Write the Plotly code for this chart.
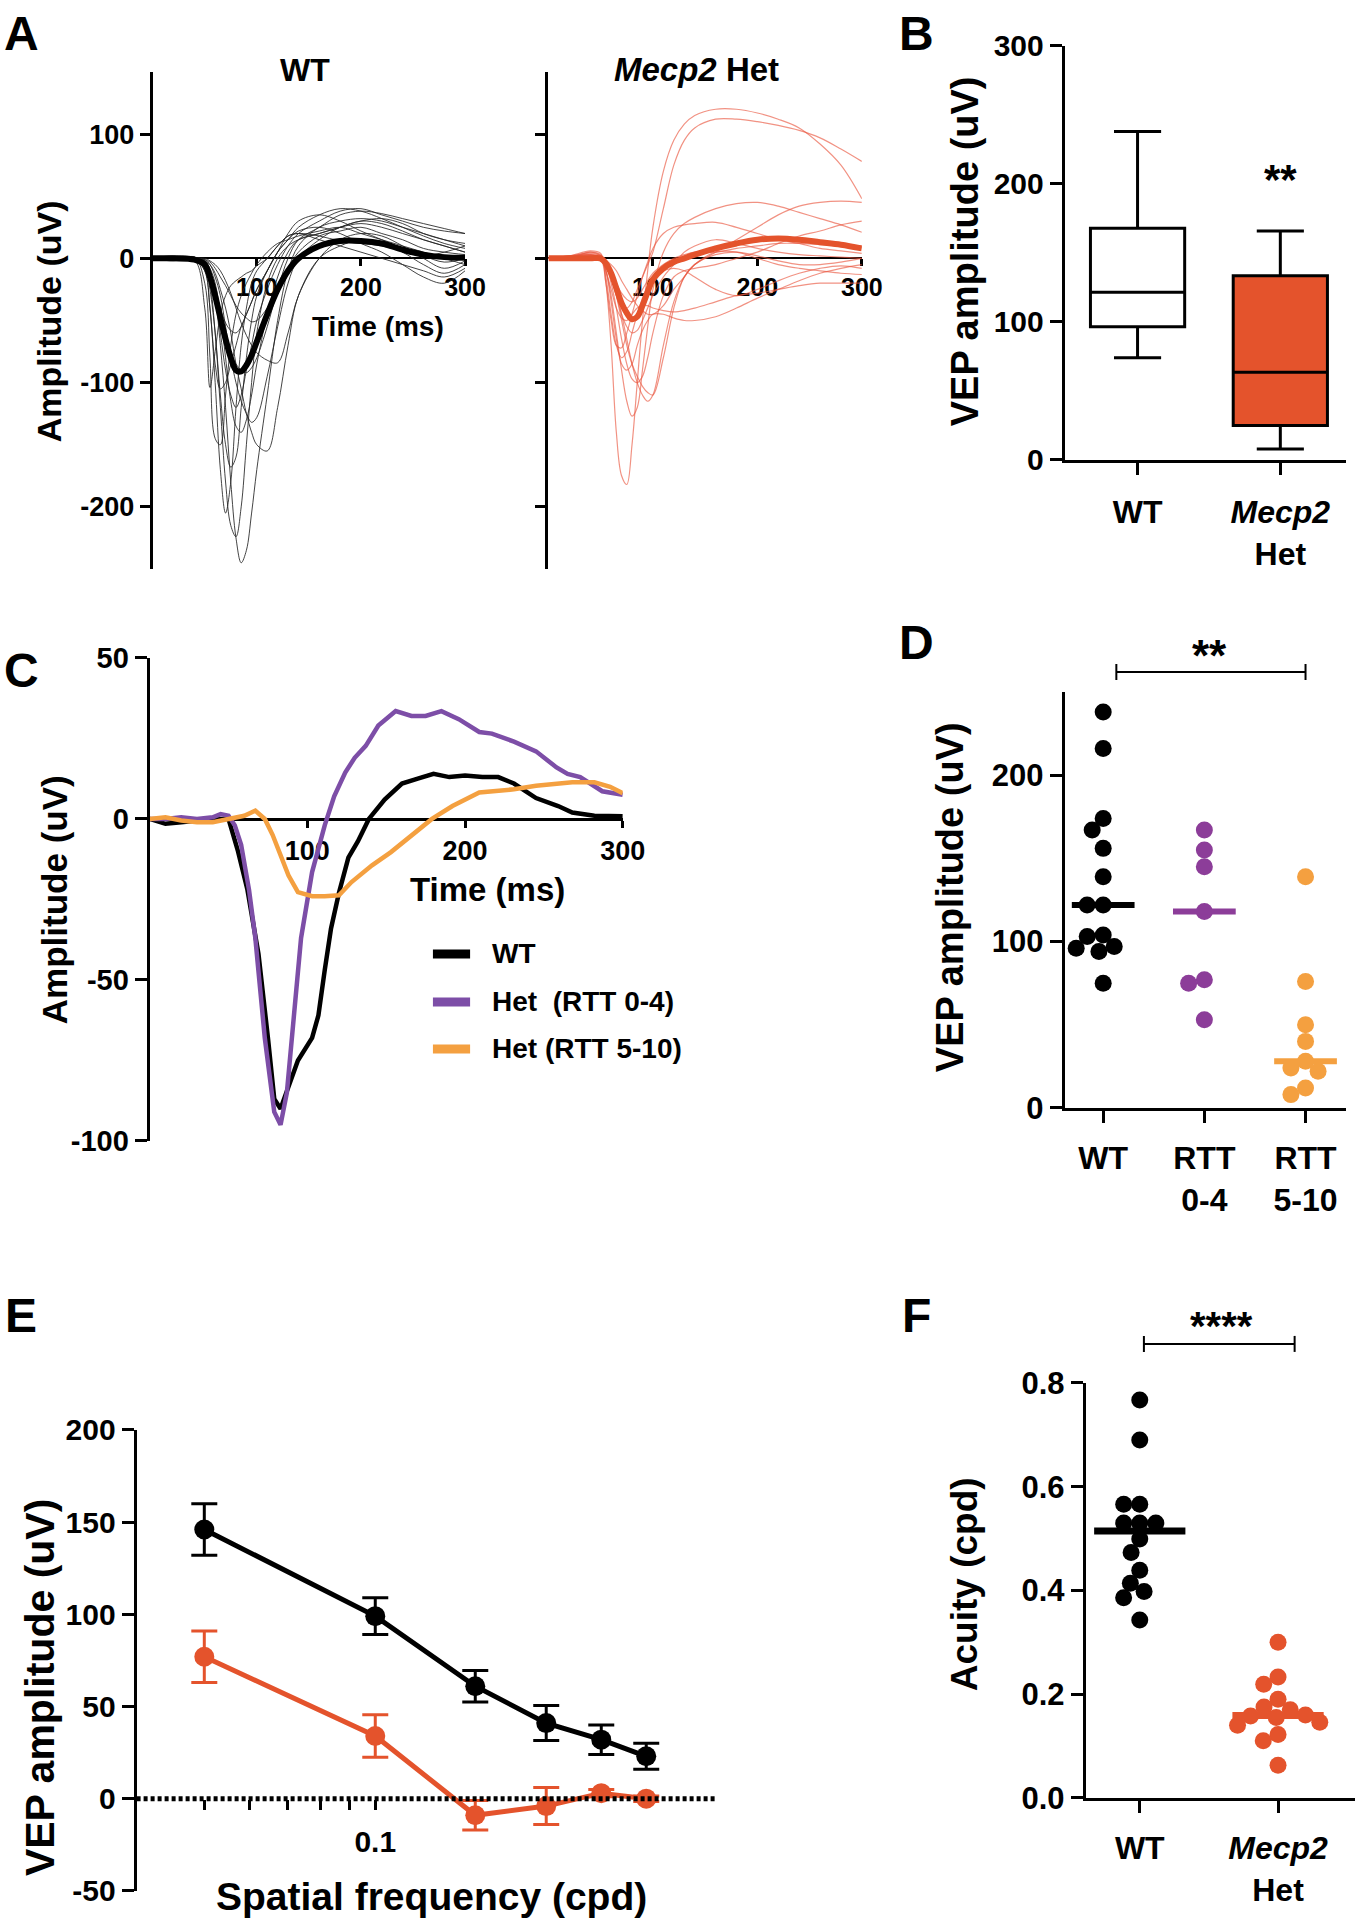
import math
import numpy as np
import plotly.graph_objects as go

# Figure canvas and calibration from page pixels to figure pixels
WF, HF = 1384, 1938
SX, SY, OY = 0.979, 0.982, 17.0
FONT = "Liberation Sans, Arial, Helvetica, sans-serif"
RED = "#E4532C"
PURPLE_C = "#7D4EA7"
PURPLE_D = "#8C3D99"
ORANGE = "#F4A040"

# ---------------- Panel A data (individual VEP traces) ----------------
T = [0, 20, 40, 50, 55, 60, 65, 70, 75, 80, 85, 90, 95, 100, 110, 120, 130, 140,
     160, 180, 200, 220, 240, 260, 280, 300]
wt_traces = [
    [0, 2, -1, -40, -104, -75, -45, -30, -22, -18, -15, -12, -10, -6, 0, 10, 18, 20, 18, 14, 12, 10, 6, 2, 5, 10],
    [0, -2, 1, -20, -80, -145, -150, -110, -70, -45, -30, -20, -12, -5, 5, 12, 15, 18, 22, 25, 20, 15, 10, 5, 0, -5],
    [0, 1, 0, -5, -25, -60, -110, -150, -168, -160, -120, -80, -50, -30, -10, 5, 15, 22, 25, 20, 12, 5, -5, -15, -20, -10],
    [0, -1, 1, -5, -20, -60, -120, -180, -215, -224, -200, -150, -100, -60, -20, 0, 10, 15, 20, 25, 30, 28, 22, 15, 10, 5],
    [0, 1, -1, -3, -10, -30, -70, -120, -180, -225, -245, -235, -205, -170, -110, -50, -10, 10, 25, 30, 32, 30, 25, 20, 15, 10],
    [0, 0, 1, -2, -10, -30, -60, -90, -110, -120, -110, -90, -70, -50, -25, -5, 10, 20, 30, 38, 40, 35, 30, 25, 22, 20],
    [0, 1, 0, -2, -5, -15, -30, -55, -80, -100, -115, -125, -132, -128, -95, -55, -20, 0, 15, 25, 30, 32, 28, 20, 15, 12],
    [0, -1, 0, -1, -5, -12, -25, -40, -60, -85, -105, -125, -140, -150, -155, -120, -70, -30, 0, 10, 15, 12, 5, -5, -12, -5],
    [0, 0, 1, -5, -15, -30, -50, -65, -78, -85, -90, -92, -88, -80, -55, -25, 0, 15, 25, 35, 38, 36, 32, 28, 24, 20],
    [0, 1, -1, -10, -40, -85, -105, -100, -85, -70, -55, -45, -35, -25, -10, 5, 15, 25, 35, 40, 38, 32, 25, 18, 12, 8],
    [0, 0, 0, 0, -2, -5, -10, -18, -28, -40, -52, -62, -70, -76, -82, -84, -60, -30, 0, 15, 20, 18, 10, 0, -8, -2],
    [0, 1, 0, -3, -12, -25, -40, -52, -58, -60, -55, -45, -35, -25, -10, 5, 20, 30, 35, 30, 22, 15, 8, 2, -3, 0],
    [0, -1, 0, -1, -3, -8, -15, -22, -30, -38, -44, -48, -51, -50, -40, -25, -8, 5, 18, 22, 25, 20, 15, 8, 5, 3],
    [0, 1, 0, -10, -40, -100, -170, -205, -180, -120, -70, -40, -20, -10, 0, 10, 18, 20, 15, 10, 5, 0, -5, -10, -15, -8],
    [0, 0, -1, -2, -8, -20, -45, -80, -115, -135, -140, -130, -110, -85, -45, -15, 5, 15, 20, 25, 28, 25, 20, 15, 10, 5],
]
wt_mean = [0, 0, -1, -5, -15, -30, -48, -65, -80, -90, -91, -86, -78, -67, -45, -25, -10, 0, 10, 14, 14, 12, 7, 3, 1, 0.5]

het_traces = [
    [0, 2, 3, 0, -5, -15, -28, -38, -40, -35, -25, -15, -5, 5, 40, 75, 95, 105, 112, 112, 110, 107, 103, 97, 88, 78],
    [0, 1, 5, 2, -20, -70, -140, -175, -182, -150, -100, -50, -10, 25, 70, 95, 108, 115, 120, 120, 117, 112, 105, 92, 75, 48],
    [0, 1, 0, -2, -5, -15, -30, -50, -70, -85, -95, -103, -108, -110, -80, -40, -15, -5, 5, 15, 25, 35, 42, 45, 46, 45],
    [0, 0, 2, 0, -10, -30, -60, -90, -115, -127, -120, -90, -55, -25, 5, 20, 28, 33, 40, 44, 45, 42, 37, 32, 27, 21],
    [0, 1, 3, 0, -20, -50, -70, -72, -60, -45, -30, -15, -3, 8, 20, 25, 27, 28, 29, 25, 20, 15, 12, 8, 6, 4],
    [0, 0, 2, 0, -10, -35, -65, -85, -90, -85, -70, -58, -50, -45, -45, -48, -50, -50, -47, -40, -32, -25, -18, -12, -8, -5],
    [0, 1, 3, 2, -2, -10, -25, -45, -65, -85, -100, -110, -115, -110, -70, -35, -15, -5, 5, 5, 0, -5, -8, -10, -12, -13],
    [0, 0, 5, 3, -5, -15, -30, -45, -55, -60, -58, -50, -40, -30, -15, -5, 5, 10, 15, 12, 8, 5, 3, 2, 1, 0],
    [0, 2, 4, 2, -10, -25, -40, -48, -50, -45, -40, -38, -38, -40, -42, -43, -42, -40, -35, -30, -28, -25, -22, -20, -20, -20],
    [0, 0, 1, 0, -5, -20, -40, -65, -85, -97, -100, -95, -80, -60, -30, -15, -10, -8, -5, 0, 5, 12, 18, 22, 27, 30],
    [0, 1, 2, 1, -3, -10, -20, -28, -33, -35, -32, -25, -18, -12, -5, 0, 3, 5, 5, 8, 10, 12, 12, 11, 10, 10],
    [0, 2, 6, 4, -15, -45, -70, -80, -75, -60, -45, -32, -22, -15, -10, -8, -10, -15, -25, -30, -25, -18, -12, -8, -6, -8],
    [0, 0, 1, 0, -2, -5, -10, -18, -25, -32, -38, -42, -45, -45, -38, -25, -15, -5, 3, 5, 2, -2, -5, -5, -3, 0],
]
het_mean = [0, 0, 0, 0, -4, -12, -24, -36, -44, -49, -47, -38, -27, -17, -8, -3, 0, 3, 8, 12, 15, 16, 15, 13, 11, 8]
a_ticks = [-200, -100, 0, 100]
a_ticktext = ["-200", "-100", "0", "100"]

# ---------------- Panel B data (box summary) ----------------
b_groups = ["WT", "<i>Mecp2</i><br>Het"]
b_q1 = [96.5, 25]
b_median = [121.5, 63.5]
b_q3 = [168, 133.5]
b_low = [74, 8]
b_high = [238, 166]

# ---------------- Panel C data (mean traces) ----------------
c_names = ["WT", "Het  (RTT 0-4)", "Het (RTT 5-10)"]
c_t_wt = [0, 10, 20, 30, 40, 50, 56, 62, 69, 75, 79, 83, 90, 94, 103, 107, 111, 115,
          120, 126, 132, 139, 149, 160, 170, 180, 190, 200, 211, 221, 231, 245, 259, 268, 282, 300]
c_wt = [0, -1.5, -1, -0.5, 0, 0, -10, -22, -42, -68, -87, -90, -80, -75, -68, -61, -47, -34,
        -23, -12, -7, 0, 6, 11, 12.5, 14, 13, 13.5, 13, 13, 11, 6.5, 4, 2, 1, 0.8]
c_t_p = [0, 10, 20, 30, 40, 45, 50, 54, 58, 63, 67, 73, 79, 83, 87, 90, 96, 103, 111,
         117, 124, 130, 137, 145, 150, 156, 166, 175, 185, 196, 209, 217, 231, 245, 258, 265, 273, 287, 300]
c_p = [0, 0, 0.5, 0, 0.5, 1.5, 1, -2, -8, -22, -37, -68, -91, -95, -85, -68, -37, -16.5, -2,
       7, 14.4, 19, 22.7, 29, 31, 33.5, 32, 32, 33.5, 31, 27, 26.5, 24, 21, 16, 14, 13, 8.6, 7.5]
c_t_o = [0, 10, 20, 30, 40, 50, 60, 67, 73, 78, 82, 88, 94, 103, 111, 120, 128, 141, 153,
         166, 179, 192, 209, 231, 245, 268, 282, 292, 300]
c_o = [0, 0.5, -0.5, -1, -1, 0, 1, 2.6, 0, -5, -10, -17.5, -22.7, -24, -24, -23.7, -19.6, -14.4, -10.3,
       -5, 0, 4, 8.2, 9.2, 10.3, 11.4, 11.4, 10, 8]
c_ticks = [-100, -50, 0, 50]
c_ticktext = ["-100", "-50", "0", "50"]

# ---------------- Panel D data ----------------
d_groups = ["WT", "RTT<br>0-4", "RTT<br>5-10"]
d_wt = [238, 216, 174, 167, 156, 139, 122, 122, 104, 103, 97, 96, 94, 75]
d_rtt04 = [167, 155, 145, 118, 77, 75, 53]
d_rtt510 = [139, 76, 50, 40, 28, 24, 22, 12, 8]

# ---------------- Panel E data ----------------
e_freq = [0.05, 0.1, 0.15, 0.2, 0.25, 0.3]
e_wt = [146, 99, 61, 41, 32, 23]
e_wt_sem = [14, 10, 8.5, 9.5, 8, 7]
e_het = [77, 34, -9, -4, 3, 0]
e_het_sem = [14, 11.5, 8, 10, 2, 1.5]
e_ticks = [-50, 0, 50, 100, 150, 200]
e_ticktext = ["-50", "0", "50", "100", "150", "200"]
e_minor = [0.05, 0.06, 0.07, 0.08, 0.09, 0.1]
e_minor_text = ["", "", "", "", "", "0.1"]

# ---------------- Panel F data ----------------
f_groups = ["WT", "<i>Mecp2</i><br>Het"]
f_wt = [0.767, 0.690, 0.566, 0.566, 0.530, 0.530, 0.530, 0.499, 0.473, 0.439, 0.414, 0.398, 0.386, 0.343]
f_het = [0.30, 0.233, 0.219, 0.19, 0.175, 0.17, 0.16, 0.158, 0.155, 0.146, 0.14, 0.122, 0.11, 0.063]


# ---------------- layout helpers (targets given in page px) ----------------
def FX(px):
    return px / SX


def FY(py):
    return (py - OY) / SY


def xp(px):
    return FX(px) / WF


def ypaper(py):
    return 1 - FY(py) / HF


def xd(a, b):
    return [xp(a), min(1.0, xp(b))]


def yd(top, bottom):
    return [max(0.0, ypaper(bottom)), min(1.0, ypaper(top))]


def zero_pos(rng, top, bottom):
    frac = (0 - rng[0]) / (rng[1] - rng[0])
    py = bottom - frac * (bottom - top)
    return ypaper(py)


def beeswarm(vals, px_per_y, px_per_x, diam):
    order = sorted(range(len(vals)), key=lambda i: -vals[i])
    placed = []
    offs = [0.0] * len(vals)
    for i in order:
        y = vals[i] * px_per_y
        cands = [0.0]
        for (px, py) in placed:
            dy = abs(py - y)
            if dy < diam:
                dx = math.sqrt(diam ** 2 - dy ** 2)
                cands += [px - dx, px + dx]
        cands.sort(key=lambda c: (abs(c), c))
        chosen = cands[-1]
        for c in cands:
            if all((c - px) ** 2 + (y - py) ** 2 >= diam ** 2 - 1e-6 for px, py in placed):
                chosen = c
                break
        placed.append((chosen, y))
        offs[i] = chosen / px_per_x
    return offs


# Panel geometry (page px)
A1 = dict(x=(152, 463), y=(72, 569), r=[-250, 150])
A2 = dict(x=(546, 858), y=(72, 569), r=[-250, 150])
B = dict(x=(1060, 1340), y=(46, 460), r=[0, 300], xr=[-0.51, 1.46])
C = dict(x=(149, 620), y=(658, 1141), r=[-100, 50])
D = dict(x=(1060, 1340), y=(692, 1108), r=[0, 250], xr=[-0.38, 2.4])
E = dict(x=(136, 714), y=(1430, 1891), r=[-50, 200], xr=[math.log10(0.038), math.log10(0.4)])
F = dict(x=(1081, 1355), y=(1383, 1798), r=[0, 0.8], xr=[-0.39, 1.6])

fig = go.Figure()

# ---- Panel A traces ----
for tr in wt_traces:
    fig.add_trace(go.Scatter(x=T, y=tr, mode="lines", line=dict(color="rgba(35,35,35,0.85)", width=1, shape="spline"),
                             xaxis="x", yaxis="y", showlegend=False, hoverinfo="skip"))
fig.add_trace(go.Scatter(x=T, y=wt_mean, mode="lines", line=dict(color="black", width=6, shape="spline"),
                         xaxis="x", yaxis="y", showlegend=False))
for tr in het_traces:
    fig.add_trace(go.Scatter(x=T, y=tr, mode="lines", line=dict(color="rgba(234,88,64,0.65)", width=1.2, shape="spline"),
                             xaxis="x2", yaxis="y2", showlegend=False, hoverinfo="skip"))
fig.add_trace(go.Scatter(x=T, y=het_mean, mode="lines", line=dict(color=RED, width=6, shape="spline"),
                         xaxis="x2", yaxis="y2", showlegend=False))

# ---- Panel B boxes ----
b_fill = ["white", RED]
for i in range(2):
    fig.add_trace(go.Box(x=[i], q1=[b_q1[i]], median=[b_median[i]], q3=[b_q3[i]],
                         lowerfence=[b_low[i]], upperfence=[b_high[i]], width=0.66, whiskerwidth=0.5,
                         fillcolor=b_fill[i], line=dict(color="black", width=3), boxpoints=False,
                         xaxis="x3", yaxis="y3", showlegend=False))

# ---- Panel C mean traces ----
c_series = [(c_t_wt, c_wt, "black"), (c_t_p, c_p, PURPLE_C), (c_t_o, c_o, ORANGE)]
for (tt, vv, col), nm in zip(c_series, c_names):
    fig.add_trace(go.Scatter(x=tt, y=vv, mode="lines", name=nm, line=dict(color=col, width=4.5),
                             xaxis="x4", yaxis="y4", showlegend=False))

# ---- Panel D scatter ----
d_ppy = (D["y"][1] - D["y"][0]) / (D["r"][1] - D["r"][0])
d_ppx = (D["x"][1] - D["x"][0]) / (D["xr"][1] - D["xr"][0])
for gi, (vals, col) in enumerate([(d_wt, "black"), (d_rtt04, PURPLE_D), (d_rtt510, ORANGE)]):
    offs = beeswarm(vals, d_ppy, d_ppx, 16)
    fig.add_trace(go.Scatter(x=[gi + o for o in offs], y=vals, mode="markers",
                             marker=dict(color=col, size=17, line=dict(width=0)),
                             xaxis="x5", yaxis="y5", showlegend=False))
    med = float(np.median(vals))
    fig.add_trace(go.Scatter(x=[gi - 0.31, gi + 0.31], y=[med, med], mode="lines",
                             line=dict(color=col, width=6), xaxis="x5", yaxis="y5", showlegend=False))

# ---- Panel E tuning curves ----
fig.add_trace(go.Scatter(x=e_freq, y=e_wt, mode="lines+markers", line=dict(color="black", width=5),
                         marker=dict(color="black", size=20),
                         error_y=dict(type="data", array=e_wt_sem, color="black", thickness=3, width=13),
                         xaxis="x6", yaxis="y6", showlegend=False))
fig.add_trace(go.Scatter(x=e_freq, y=e_het, mode="lines+markers", line=dict(color=RED, width=5),
                         marker=dict(color=RED, size=20),
                         error_y=dict(type="data", array=e_het_sem, color=RED, thickness=3, width=13),
                         xaxis="x6", yaxis="y6", showlegend=False))

# ---- Panel F scatter ----
f_ppy = (F["y"][1] - F["y"][0]) / (F["r"][1] - F["r"][0])
f_ppx = (F["x"][1] - F["x"][0]) / (F["xr"][1] - F["xr"][0])
for gi, (vals, col) in enumerate([(f_wt, "black"), (f_het, RED)]):
    offs = beeswarm(vals, f_ppy, f_ppx, 16)
    fig.add_trace(go.Scatter(x=[gi + o for o in offs], y=vals, mode="markers",
                             marker=dict(color=col, size=17, line=dict(width=0)),
                             xaxis="x7", yaxis="y7", showlegend=False))
    med = float(np.median(vals))
    fig.add_trace(go.Scatter(x=[gi - 0.33, gi + 0.33], y=[med, med], mode="lines",
                             line=dict(color=col, width=7), xaxis="x7", yaxis="y7", showlegend=False))


# ---------------- axes ----------------
def ax_common(size):
    return dict(showline=True, linecolor="black", linewidth=3, ticks="outside", tickwidth=3,
                ticklen=12, tickcolor="black", showgrid=False, zeroline=False,
                tickfont=dict(family=FONT, size=size, color="black", weight="bold"))


lay = {}
lay["xaxis"] = dict(ax_common(25), domain=xd(*A1["x"]), range=[0, 300], anchor="free",
                    position=zero_pos(A1["r"], *A1["y"]), tickvals=[100, 200, 300], ticklen=7,
                    linewidth=2, layer="below traces")
lay["yaxis"] = dict(ax_common(27), domain=yd(*A1["y"]), range=A1["r"], anchor="x",
                    tickvals=a_ticks, ticktext=a_ticktext, ticklen=10)
lay["xaxis2"] = dict(ax_common(25), domain=xd(*A2["x"]), range=[0, 300], anchor="free",
                     position=zero_pos(A2["r"], *A2["y"]), tickvals=[100, 200, 300], ticklen=7,
                     linewidth=2, layer="below traces")
lay["yaxis2"] = dict(ax_common(27), domain=yd(*A2["y"]), range=A2["r"], anchor="x2",
                     tickvals=a_ticks, ticklen=10, showticklabels=False)
lay["xaxis3"] = dict(ax_common(32), domain=xd(*B["x"]), range=B["xr"], anchor="y3",
                     tickvals=[0, 1], ticktext=b_groups, ticklabelstandoff=10)
lay["yaxis3"] = dict(ax_common(30), domain=yd(*B["y"]), range=B["r"], anchor="x3",
                     tickvals=[0, 100, 200, 300])
lay["xaxis4"] = dict(ax_common(27), domain=xd(*C["x"]), range=[0, 300], anchor="free",
                     position=zero_pos(C["r"], *C["y"]), tickvals=[100, 200, 300], ticklen=7,
                     linewidth=2.5, layer="below traces")
lay["yaxis4"] = dict(ax_common(29), domain=yd(*C["y"]), range=C["r"], anchor="x4",
                     tickvals=c_ticks, ticktext=c_ticktext)
lay["xaxis5"] = dict(ax_common(32), domain=xd(*D["x"]), range=D["xr"], anchor="y5",
                     tickvals=[0, 1, 2], ticktext=d_groups, ticklabelstandoff=8)
lay["yaxis5"] = dict(ax_common(31), domain=yd(*D["y"]), range=D["r"], anchor="x5",
                     tickvals=[0, 100, 200])
lay["xaxis6"] = dict(ax_common(30), type="log", domain=xd(*E["x"]), range=E["xr"], anchor="free",
                     position=zero_pos(E["r"], *E["y"]), showline=False,
                     tickvals=e_minor, ticktext=e_minor_text, ticklen=10, ticklabelstandoff=6)
lay["yaxis6"] = dict(ax_common(30), domain=yd(*E["y"]), range=E["r"], anchor="x6",
                     tickvals=e_ticks, ticktext=e_ticktext)
lay["xaxis7"] = dict(ax_common(32), domain=xd(*F["x"]), range=F["xr"], anchor="y7",
                     tickvals=[0, 1], ticktext=f_groups, ticklabelstandoff=8)
lay["yaxis7"] = dict(ax_common(31), domain=yd(*F["y"]), range=F["r"], anchor="x7",
                     tickvals=[0, 0.2, 0.4, 0.6, 0.8], tickformat=".1f")

# ---------------- annotations ----------------
ann = []


def txt(x, y, s, size, angle=0, xanchor="center", xref="paper"):
    ann.append(dict(x=(xp(x) if xref == "paper" else x), y=ypaper(y), xref=xref, yref="paper", text=s,
                    showarrow=False, textangle=angle, xanchor=xanchor, yanchor="middle",
                    font=dict(family=FONT, size=size, color="black", weight="bold")))


for letter, (lx, ly) in zip("ABCDEF", [(21, 34), (912, 34), (21, 671), (912, 643), (21, 1316), (912, 1316)]):
    txt(lx, ly, letter, 48)

txt(304, 70, "WT", 32)
txt(693, 70, "<i>Mecp2</i> Het", 33)
txt(49, 321, "Amplitude (uV)", 34, -90)
txt(376, 327, "Time (ms)", 28)
txt(961, 251, "VEP amplitude (uV)", 38, -90)
txt(1, 180, "**", 42, xref="x3")
txt(55, 900, "Amplitude (uV)", 35, -90)
txt(485, 890, "Time (ms)", 33)
txt(946, 897, "VEP amplitude (uV)", 38, -90)
txt(1.05, 656, "**", 44, xref="x5")
txt(40, 1688, "VEP amplitude (uV)", 41, -90)
txt(430, 1897, "Spatial frequency (cpd)", 39)
txt(961, 1584, "Acuity (cpd)", 37, -90)
txt(0.59, 1326, "****", 40, xref="x7")

# Legend for panel C (drawn manually)
shapes = []
leg_y = [954, 1002, 1049]
for (tt, vv, col), nm, ly in zip(c_series, c_names, leg_y):
    shapes.append(dict(type="line", xref="paper", yref="paper", x0=xp(431), x1=xp(468),
                       y0=ypaper(ly), y1=ypaper(ly), line=dict(color=col, width=9)))
    txt(488, ly, nm, 28, xanchor="left")


def sig_bar(xref, xa, xb, py, half=8):
    shapes.append(dict(type="line", xref=xref, yref="paper", x0=xa, x1=xb, y0=ypaper(py), y1=ypaper(py),
                       line=dict(color="black", width=2)))
    for xx in (xa, xb):
        shapes.append(dict(type="line", xref=xref, yref="paper", x0=xx, x1=xx,
                           y0=ypaper(py - half), y1=ypaper(py + half), line=dict(color="black", width=2)))


sig_bar("x5", 0.13, 2.0, 672)
sig_bar("x7", 0.03, 1.12, 1344)

shapes.append(dict(type="line", xref="x6 domain", yref="y6", x0=0, x1=1, y0=0, y1=0,
                   line=dict(color="black", width=5, dash="4px,3px")))

fig.update_layout(width=WF, height=HF, margin=dict(l=0, r=0, t=0, b=0), paper_bgcolor="white",
                  plot_bgcolor="white", showlegend=False, annotations=ann, shapes=shapes,
                  font=dict(family=FONT, color="black", weight="bold"), **lay)

page_css = ("document.body.style.margin='0px';"
            "document.body.style.overflow='hidden';"
            "document.documentElement.style.overflow='hidden';"
            "var d=document.getElementById('{plot_id}');"
            "d.style.position='absolute';d.style.left='0px';d.style.top='0px';")
fig.write_html("out.html", post_script=page_css, config={"displayModeBar": False})
